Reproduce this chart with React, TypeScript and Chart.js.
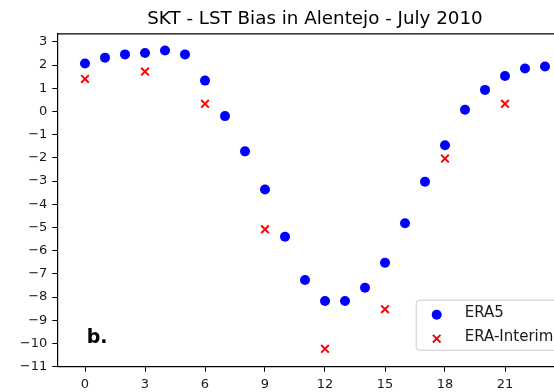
import React, { useEffect, useRef } from "react";
import { Chart, registerables } from "chart.js";

Chart.register(...registerables);

const title = "SKT - LST Bias in Alentejo - July 2010";
const panelLabel = "b.";
const hours = [0, 1, 2, 3, 4, 5, 6, 7, 8, 9, 10, 11, 12, 13, 14, 15, 16, 17, 18, 19, 20, 21, 22, 23];
const era5 = [2.07, 2.32, 2.46, 2.52, 2.63, 2.46, 1.33, -0.2, -1.72, -3.36, -5.4, -7.26, -8.17, -8.17, -7.6, -6.52, -4.82, -3.03, -1.46, 0.07, 0.93, 1.53, 1.85, 1.94];
const interimHours = [0, 3, 6, 9, 12, 15, 18, 21];
const eraInterim = [1.4, 1.72, 0.33, -5.08, -10.23, -8.52, -2.03, 0.33];
const xTicks = [0, 3, 6, 9, 12, 15, 18, 21];
const yTicks = [-11, -10, -9, -8, -7, -6, -5, -4, -3, -2, -1, 0, 1, 2, 3];
const seriesNames = ["ERA5", "ERA-Interim"];

const FONT = "'DejaVu Sans', sans-serif";
const TEXT = "#1a1a1a";

const fmt = (v: number) => (v < 0 ? "\u2212" + Math.abs(v) : String(v));

const extrasPlugin = {
  id: "extras",
  afterDraw(chart: any) {
    const { ctx, chartArea } = chart;
    const { left, right, top, bottom } = chartArea;
    ctx.save();
    ctx.strokeStyle = "#000";
    ctx.lineWidth = 1.2;
    ctx.beginPath();
    ctx.moveTo(left, top);
    ctx.lineTo(right, top);
    ctx.lineTo(right, bottom);
    ctx.stroke();

    ctx.fillStyle = "#000";
    ctx.font = "bold 19px " + FONT;
    ctx.textAlign = "left";
    ctx.textBaseline = "alphabetic";
    ctx.fillText(panelLabel, left + 29.4, bottom - 23.7);

    const bx = right - 156.5;
    const by = bottom - 66.5;
    const bw = 146;
    const bh = 50;
    ctx.beginPath();
    if ((ctx as any).roundRect) (ctx as any).roundRect(bx, by, bw, bh, 3);
    else ctx.rect(bx, by, bw, bh);
    ctx.fillStyle = "rgba(255,255,255,0.8)";
    ctx.fill();
    ctx.strokeStyle = "#cccccc";
    ctx.lineWidth = 1;
    ctx.stroke();

    const mx = bx + 20.5;
    const ds = chart.data.datasets;
    const y1 = by + 14.5;
    ctx.beginPath();
    ctx.arc(mx, y1, 5, 0, Math.PI * 2);
    ctx.fillStyle = ds[0].backgroundColor;
    ctx.fill();
    const y2 = by + 38.5;
    const h = 3.8;
    ctx.beginPath();
    ctx.moveTo(mx - h, y2 - h);
    ctx.lineTo(mx + h, y2 + h);
    ctx.moveTo(mx - h, y2 + h);
    ctx.lineTo(mx + h, y2 - h);
    ctx.strokeStyle = ds[1].borderColor;
    ctx.lineWidth = 2;
    ctx.stroke();

    ctx.fillStyle = TEXT;
    ctx.font = "15px " + FONT;
    ctx.textBaseline = "middle";
    ctx.fillText(ds[0].label, bx + 48.5, y1 - 2);
    ctx.fillText(ds[1].label, bx + 48.5, y2 - 2);
    ctx.restore();
  },
};

export default function App() {
  const ref = useRef<HTMLCanvasElement | null>(null);
  useEffect(() => {
    if (!ref.current) return;
    Chart.defaults.font.family = FONT;
    Chart.defaults.font.size = 13;
    Chart.defaults.color = TEXT;
    const chart = new Chart(ref.current, {
      type: "scatter",
      data: {
        datasets: [
          {
            label: seriesNames[0],
            data: hours.map((h, i) => ({ x: h, y: era5[i] })),
            pointStyle: "circle",
            pointRadius: 5,
            backgroundColor: "#0000ff",
            borderColor: "#0000ff",
            borderWidth: 0,
          },
          {
            label: seriesNames[1],
            data: interimHours.map((h, i) => ({ x: h, y: eraInterim[i] })),
            pointStyle: "crossRot",
            pointRadius: 5.4,
            backgroundColor: "#ff0000",
            borderColor: "#ff0000",
            borderWidth: 2,
          },
        ],
      },
      options: {
        animation: false,
        responsive: false,
        devicePixelRatio: 1,
        layout: { padding: { left: 0, right: 57.3, top: 0, bottom: 0 } },
        plugins: {
          legend: { display: false },
          tooltip: { enabled: false },
          title: {
            display: true,
            text: title,
            fullSize: false,
            color: "#000",
            font: { family: FONT, size: 18.3, weight: "normal" },
            padding: { top: 8, bottom: 4.0 },
          },
        },
        scales: {
          x: {
            type: "linear",
            min: -1.385,
            max: 24.385,
            afterBuildTicks: (axis: any) => {
              axis.ticks = xTicks.map((v) => ({ value: v }));
            },
            afterFit: (scale: any) => {
              scale.height = 25.3;
            },
            ticks: { padding: 5, maxRotation: 0, autoSkip: false, color: TEXT, font: { size: 13 }, callback: (v: any) => fmt(Number(v)) },
            grid: { display: true, drawOnChartArea: false, drawTicks: true, tickLength: 5, color: "#000", lineWidth: 1 },
            border: { display: true, color: "#000", width: 1.2 },
          },
          y: {
            type: "linear",
            min: -11,
            max: 3.34,
            afterBuildTicks: (axis: any) => {
              axis.ticks = yTicks.map((v) => ({ value: v }));
            },
            afterFit: (scale: any) => {
              scale.width = 57.3;
            },
            ticks: { padding: 5, autoSkip: false, color: TEXT, font: { size: 13 }, callback: (v: any) => fmt(Number(v)) },
            grid: { display: true, drawOnChartArea: false, drawTicks: true, tickLength: 5, color: "#000", lineWidth: 1 },
            border: { display: true, color: "#000", width: 1.2 },
          },
        },
      },
      plugins: [extrasPlugin],
    } as any);
    return () => chart.destroy();
  }, []);
  return (
    <div style={{ position: "fixed", left: 0, top: 0, width: 630, height: 392, background: "#fff" }}>
      <canvas ref={ref} width={630} height={392} style={{ display: "block" }} />
    </div>
  );
}
